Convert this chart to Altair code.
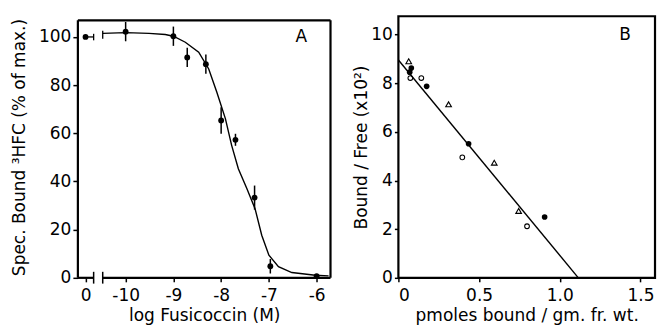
import altair as alt
import pandas as pd

# ---------------- Panel A data ----------------
# x position of the "0" (control) value on the broken axis is placed at -10.84
a_x = [-10.84, -10.0, -9.0, -8.71, -8.32, -8.0, -7.7, -7.3, -6.97, -6.0]
a_y = [100.0, 102.2, 100.3, 91.5, 88.7, 65.3, 57.3, 33.3, 4.8, 0.7]
a_err = [0.0, 4.0, 4.0, 4.0, 4.0, 5.5, 2.5, 5.0, 3.0, 0.0]

curve_x = [-10.48, -10.0, -9.51, -9.17, -9.0, -8.75, -8.47, -8.26, -8.09, -7.91,
           -7.78, -7.64, -7.46, -7.29, -7.15, -7.0, -6.8, -6.52, -6.03, -5.75]
curve_y = [101.5, 101.8, 101.5, 101.0, 100.3, 97.8, 93.7, 86.7, 77.0, 66.0,
           55.0, 45.3, 37.0, 28.7, 17.7, 9.4, 4.6, 2.2, 1.1, 0.8]

a_tick_values = [-10.84, -10, -9, -8, -7, -6]
a_y_ticks = [0, 20, 40, 60, 80, 100]

# ---------------- Panel B data ----------------
tri_x = [0.064, 0.311, 0.594, 0.745]
tri_y = [8.90, 7.13, 4.73, 2.75]
open_x = [0.074, 0.142, 0.396, 0.797]
open_y = [8.21, 8.21, 4.95, 2.12]
fill_x = [0.080, 0.070, 0.175, 0.435, 0.906]
fill_y = [8.62, 8.45, 7.87, 5.51, 2.50]
line_x = [0.0, 1.115]
line_y = [8.95, 0.0]

b_x_ticks = [0, 0.5, 1.0, 1.5]
b_y_ticks = [0, 2, 4, 6, 8, 10]

FONT = "DejaVu Sans"
LFS = 17   # tick label font size
TFS = 17   # axis title font size

# ---------------- Panel A ----------------
A_XMIN, A_XMAX = -11.0, -5.71
A_YMAX, A_TOP = 108.6, 106.9
BRK1, BRK2 = -10.67, -10.48

xA = alt.Scale(domain=[A_XMIN, A_XMAX], nice=False, zero=False)
yA = alt.Scale(domain=[0, A_YMAX], nice=False, zero=False)

axAx = alt.Axis(
    values=a_tick_values,
    labelExpr="datum.value < -10.5 ? '0' : '-' + format(-datum.value, 'd')",
    domain=False, tickSize=4, tickWidth=1.5, tickColor="black",
    labelFontSize=LFS, labelPadding=6,
    title="log Fusicoccin (M)", titleFontSize=TFS, titlePadding=4)
axAy = alt.Axis(
    values=a_y_ticks, domain=False, tickSize=5, tickWidth=1.5,
    tickColor="black", labelFontSize=LFS, labelPadding=2,
    title="Spec. Bound ³HFC (% of max.)", titleFontSize=TFS, titlePadding=10)

dfA = pd.DataFrame({"x": a_x, "y": a_y,
                    "lo": [y - e for y, e in zip(a_y, a_err)],
                    "hi": [y + e for y, e in zip(a_y, a_err)]})
dfCurve = pd.DataFrame({"x": curve_x, "y": curve_y})

pointsA = alt.Chart(dfA).mark_circle(size=34, color="black", opacity=1).encode(
    x=alt.X("x:Q", scale=xA, axis=axAx),
    y=alt.Y("y:Q", scale=yA, axis=axAy),
)

errA = alt.Chart(dfA).mark_rule(color="black", strokeWidth=1.5).encode(
    x=alt.X("x:Q", scale=xA, axis=axAx),
    y=alt.Y("lo:Q", scale=yA, axis=axAy),
    y2="hi:Q",
)

curveA = alt.Chart(dfCurve).mark_line(color="black", strokeWidth=1.4).encode(
    x=alt.X("x:Q", scale=xA, axis=axAx),
    y=alt.Y("y:Q", scale=yA, axis=axAy),
)

# frame & broken axis for A
hseg = pd.DataFrame({
    "x": [A_XMIN, BRK2, A_XMIN, -10.84],
    "x2": [BRK1, A_XMAX, A_XMAX, BRK1],
    "y": [0, 0, A_TOP, 100.0],
    "w": [2.2, 2.2, 2.2, 1.3],
})
vseg = pd.DataFrame({
    "x": [A_XMIN, A_XMAX, BRK1, BRK2, BRK1, BRK2],
    "y": [0, 0, -2.4, -2.4, 98.6, 99.3],
    "y2": [A_TOP, A_TOP, 2.5, 2.5, 101.3, 102.6],
    "w": [2.2, 2.2, 1.5, 1.5, 1.3, 1.3],
})
hA = alt.Chart(hseg).mark_rule(color="black").encode(
    x=alt.X("x:Q", scale=xA, axis=axAx), x2="x2:Q",
    y=alt.Y("y:Q", scale=yA, axis=axAy),
    strokeWidth=alt.StrokeWidth("w:Q", scale=None),
)
vA = alt.Chart(vseg).mark_rule(color="black").encode(
    x=alt.X("x:Q", scale=xA, axis=axAx),
    y=alt.Y("y:Q", scale=yA, axis=axAy), y2="y2:Q",
    strokeWidth=alt.StrokeWidth("w:Q", scale=None),
)
labA = alt.Chart(pd.DataFrame({"x": [-6.32], "y": [99.9], "t": ["A"]})).mark_text(
    fontSize=17, font=FONT, color="black").encode(
    x=alt.X("x:Q", scale=xA, axis=axAx),
    y=alt.Y("y:Q", scale=yA, axis=axAy), text="t:N")

panelA = alt.layer(pointsA, errA, curveA, hA, vA, labA).properties(
    width=253, height=262, view=alt.ViewBackground(stroke=None))

# ---------------- Panel B ----------------
xB = alt.Scale(domain=[0, 1.59], nice=False, zero=False)
yB = alt.Scale(domain=[0, 10.75], nice=False, zero=False)

axBx = alt.Axis(
    values=b_x_ticks, labelExpr="datum.value == 0 ? '0' : format(datum.value, '.1f')",
    domain=False, tickSize=4, tickWidth=1.5, tickColor="black",
    labelFontSize=LFS, labelPadding=6,
    title="pmoles  bound / gm. fr. wt.", titleFontSize=TFS, titlePadding=4)
axBy = alt.Axis(
    values=b_y_ticks, domain=False, tickSize=4, tickWidth=1.5,
    tickColor="black", labelFontSize=LFS, labelPadding=2,
    title="Bound / Free (x10²)", titleFontSize=TFS, titlePadding=0)

dfTri = pd.DataFrame({"x": tri_x, "y": tri_y})
dfOpen = pd.DataFrame({"x": open_x, "y": open_y})
dfFill = pd.DataFrame({"x": fill_x, "y": fill_y})
dfLine = pd.DataFrame({"x": line_x, "y": line_y})

lineB = alt.Chart(dfLine).mark_line(color="black", strokeWidth=1.4).encode(
    x=alt.X("x:Q", scale=xB, axis=axBx),
    y=alt.Y("y:Q", scale=yB, axis=axBy),
)
triB = alt.Chart(dfTri).mark_point(shape="triangle-up", size=32, filled=False,
                                   color="black", strokeWidth=1.1, opacity=1).encode(
    x=alt.X("x:Q", scale=xB, axis=axBx), y=alt.Y("y:Q", scale=yB, axis=axBy))
openB = alt.Chart(dfOpen).mark_point(shape="circle", size=22, filled=False,
                                     color="black", strokeWidth=1.1, opacity=1).encode(
    x=alt.X("x:Q", scale=xB, axis=axBx), y=alt.Y("y:Q", scale=yB, axis=axBy))
fillB = alt.Chart(dfFill).mark_circle(size=32, color="black", opacity=1).encode(
    x=alt.X("x:Q", scale=xB, axis=axBx), y=alt.Y("y:Q", scale=yB, axis=axBy))
labB = alt.Chart(pd.DataFrame({"x": [1.405], "y": [9.97], "t": ["B"]})).mark_text(
    fontSize=17, font=FONT, color="black").encode(
    x=alt.X("x:Q", scale=xB, axis=axBx),
    y=alt.Y("y:Q", scale=yB, axis=axBy), text="t:N")

panelB = alt.layer(lineB, triB, openB, fillB, labB).properties(width=257, height=262)

chart = alt.hconcat(panelA, panelB, spacing=19).properties(
    padding={"left": 10, "top": 14, "right": 5, "bottom": 5},
    background="white",
).configure_view(stroke="black", strokeWidth=2.2).configure_axis(
    grid=False, labelFont=FONT, titleFont=FONT, labelColor="black",
    titleColor="black", titleFontWeight="normal"
)

chart.save("out.html", embed_options={"renderer": "svg", "actions": False})
